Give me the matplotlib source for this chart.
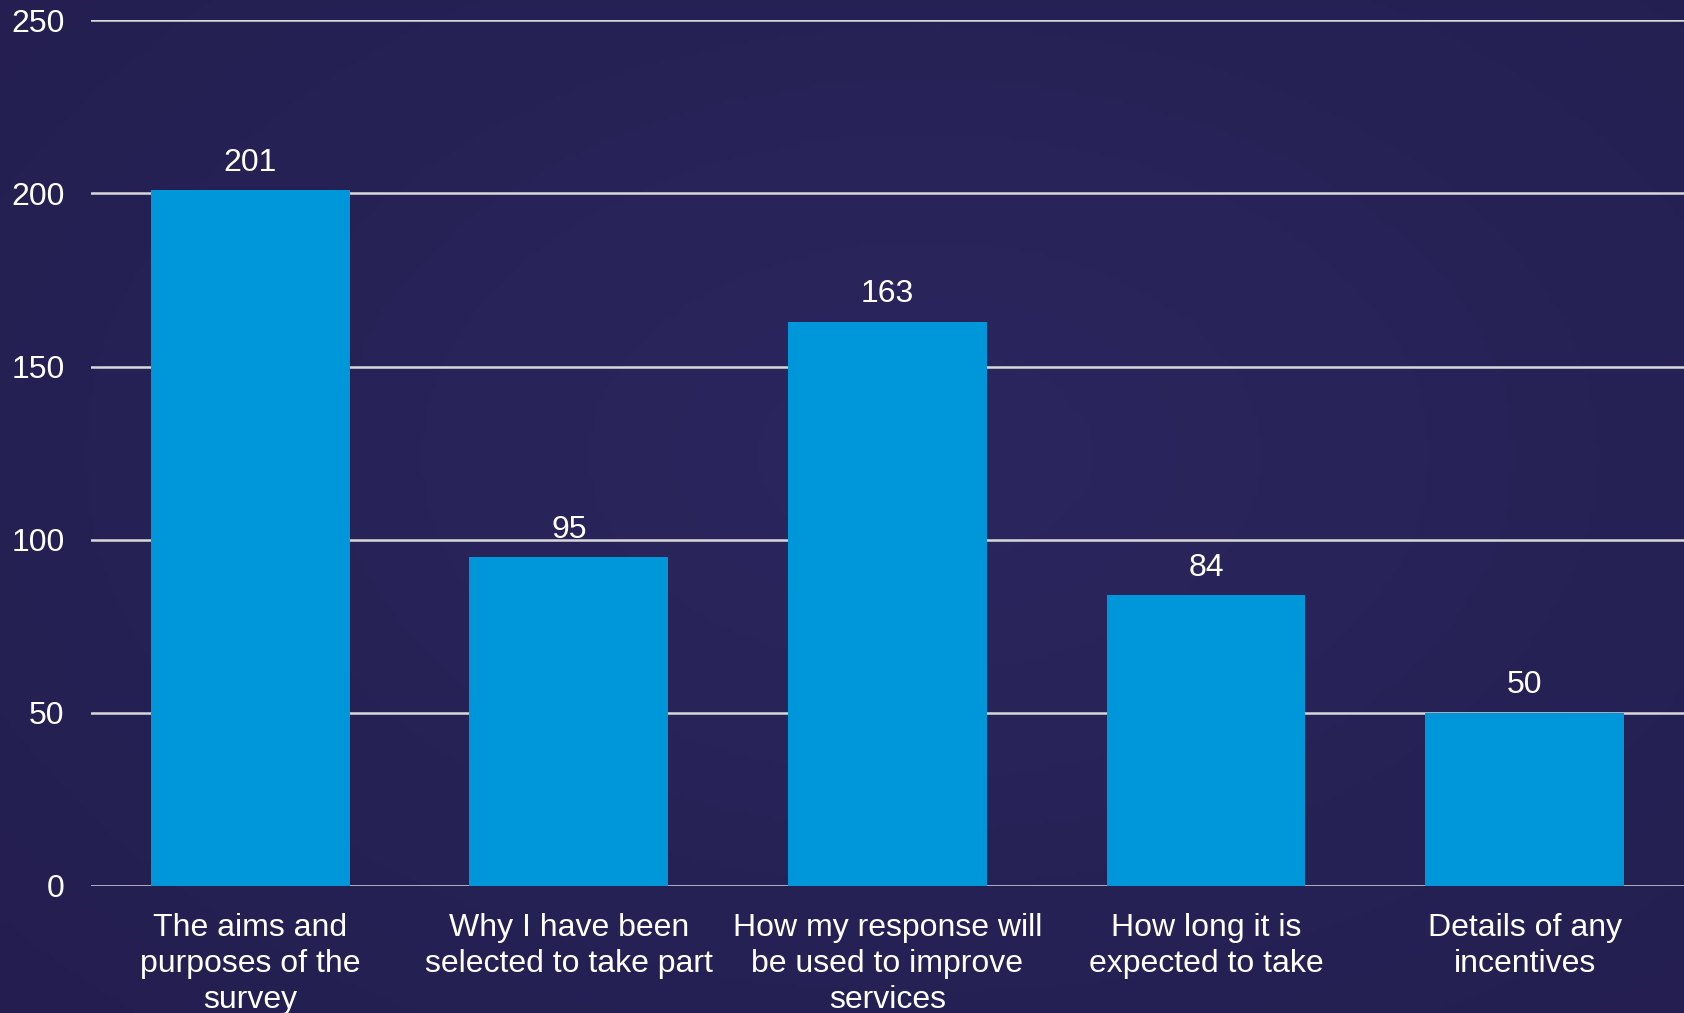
import numpy as np
import matplotlib
matplotlib.use("Agg")
import matplotlib.pyplot as plt

categories = [
    "The aims and\npurposes of the\nsurvey",
    "Why I have been\nselected to take part",
    "How my response will\nbe used to improve\nservices",
    "How long it is\nexpected to take",
    "Details of any\nincentives",
]
counts = [201, 95, 163, 84, 50]
y_ticks = [0, 50, 100, 150, 200, 250]

plt.rcParams["font.family"] = ["Liberation Sans", "DejaVu Sans"]

fig = plt.figure(figsize=(16.84, 10.13), dpi=100)

# soft navy background, a touch darker towards the edges
bg = fig.add_axes([0, 0, 1, 1], zorder=0)
yy, xx = np.mgrid[0:1:200j, 0:1:340j]
r = np.sqrt(((xx - 0.55) / 0.8) ** 2 + ((yy - 0.45) / 0.85) ** 2)
t = np.clip(r, 0, 1)[..., None]
inner = np.array([0x2b, 0x26, 0x5e]) / 255
outer = np.array([0x23, 0x1e, 0x4e]) / 255
bg.imshow(inner * (1 - t) + outer * t, aspect="auto", extent=[0, 1, 0, 1])
bg.axis("off")

ax = fig.add_axes([0.054, 0.1254, 0.946, 0.8545], zorder=1)
ax.patch.set_alpha(0)

x = np.arange(len(categories))
bars = ax.bar(x, counts, width=0.624, color="#0096da", zorder=3)
for b, v in zip(bars, counts):
    ax.annotate(str(v), (b.get_x() + b.get_width() / 2, v), xytext=(0, 9),
                textcoords="offset points", ha="center", va="bottom",
                color="white", fontsize=23)

ax.set_xlim(-0.5, 4.5)
ax.set_ylim(0, 250)
ax.set_yticks(y_ticks)
ax.yaxis.grid(True, color="#d9d9d9", linewidth=1.8, zorder=1)
ax.set_axisbelow(True)

ax.set_xticks(x)
ax.set_xticklabels(categories, linespacing=1.26)
ax.tick_params(axis="x", length=0, pad=19.5, labelsize=23, labelcolor="white")
ax.tick_params(axis="y", length=0, pad=19, labelsize=23, labelcolor="white")

for s in ax.spines.values():
    s.set_visible(False)

fig.savefig("out.png", dpi=100)
